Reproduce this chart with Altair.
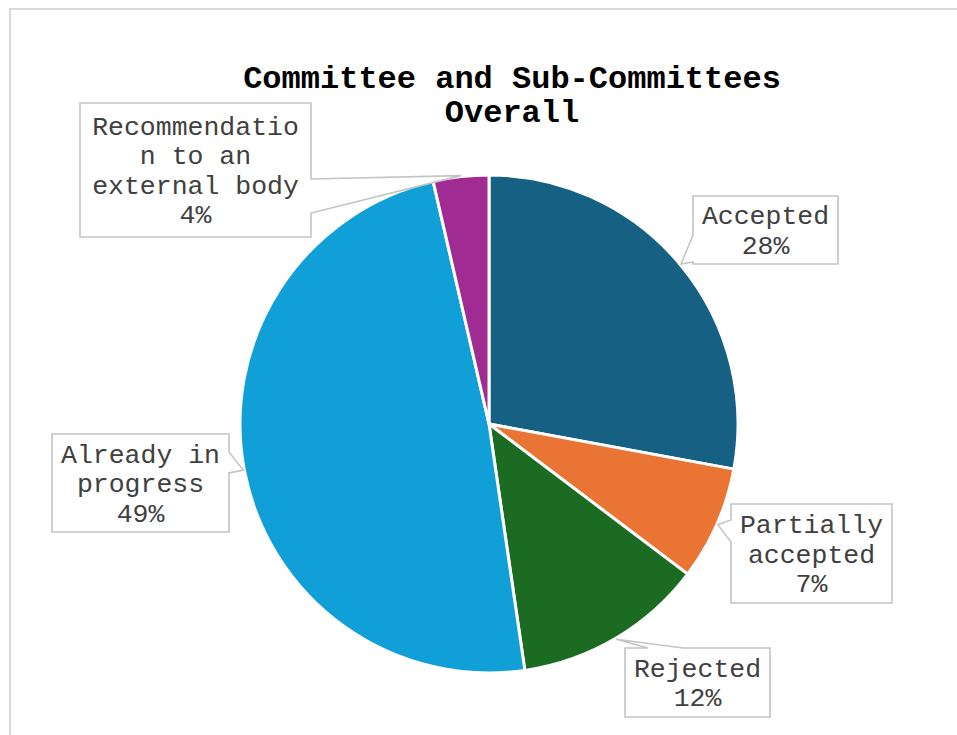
import math
import altair as alt
import pandas as pd

# ---- data ----
categories = ["Accepted", "Partially accepted", "Rejected",
              "Already in progress", "Recommendation to an external body"]
values = [27.9, 7.4, 12.4, 48.7, 3.6]          # percent of recommendations
colors = ["#166083", "#EA7434", "#1C6B23", "#119FD7", "#A02B93"]
wrapped = {                                    # how the labels wrap in the boxes
    "Accepted": ["Accepted"],
    "Partially accepted": ["Partially", "accepted"],
    "Rejected": ["Rejected"],
    "Already in progress": ["Already in", "progress"],
    "Recommendation to an external body": ["Recommendatio", "n to an", "external body"],
}
title_lines = ["Committee and Sub-Committees", "Overall"]

# ---- layout (positions / styling only) ----
CX, CY, R = 489, 424, 249
FONT = "'Courier New', Courier, 'Nimbus Mono PS', FreeMono, 'Liberation Mono', monospace"
LH = 29.5
# box: x0, y0, x1, y1 ; pointer side and base positions along that side
layout = {
    "Accepted": dict(box=(693, 196, 838, 264), side="left", base=(235, 262)),
    "Partially accepted": dict(box=(731, 504, 892, 603), side="left", base=(520, 542)),
    "Rejected": dict(box=(625, 648, 770, 717), side="top", base=(648, 683)),
    "Already in progress": dict(box=(52, 434, 229, 532), side="right", base=(452, 473)),
    "Recommendation to an external body": dict(box=(80, 103, 311, 237), side="right", base=(179, 213)),
}

total = sum(values)
rows = []
cum = 0.0
for i, (c, v) in enumerate(zip(categories, values)):
    mid = (cum + v / 2) / total * 2 * math.pi
    cum += v
    tx, ty = CX + (R + 1) * math.sin(mid), CY - (R + 1) * math.cos(mid)
    L = layout[c]
    x0, y0, x1, y1 = L["box"]
    a, b = L["base"]
    if L["side"] == "left":
        pts = [(x0, y0), (x1, y0), (x1, y1), (x0, y1), (x0, b), (tx, ty), (x0, a)]
    elif L["side"] == "right":
        pts = [(x0, y0), (x1, y0), (x1, a), (tx, ty), (x1, b), (x1, y1), (x0, y1)]
    else:  # top
        pts = [(x0, y0), (a, y0), (tx, ty), (b, y0), (x1, y0), (x1, y1), (x0, y1)]
    path = "M" + " L".join(f"{px:.1f},{py:.1f}" for px, py in pts) + " Z"
    lines = wrapped[c] + [f"{round(v / total * 100)}%"]
    label = "\n".join(lines)
    rows.append(dict(category=c, value=v, idx=i, path=path, label=label,
                     lx=(x0 + x1) / 2,
                     ly=(y0 + y1) / 2 - (len(lines) - 1) * LH / 2 + 1))

df = pd.DataFrame(rows)

pie = alt.Chart(df).mark_arc(outerRadius=R, stroke="white", strokeWidth=3).encode(
    theta=alt.Theta("value:Q", stack=True),
    color=alt.Color("category:N", scale=alt.Scale(domain=categories, range=colors), legend=None),
    order=alt.Order("idx:Q"),
    x=alt.value(CX),
    y=alt.value(CY),
)

callouts = alt.Chart(df).mark_point(
    filled=True, fill="white", stroke="#C4C4C4", strokeWidth=1.6, size=4, opacity=1
).encode(
    shape=alt.Shape("path:N", scale=None, legend=None),
    x=alt.value(0),
    y=alt.value(0),
)

labels = alt.Chart(df).mark_text(
    font=FONT, fontSize=26.5, lineBreak="\n", lineHeight=LH, color="#404040",
    align="center", baseline="middle"
).encode(
    text="label:N",
    x=alt.X("lx:Q", scale=None),
    y=alt.Y("ly:Q", scale=None),
)

title = alt.Chart(pd.DataFrame({"t": ["\n".join(title_lines)]})).mark_text(
    font=FONT, fontSize=32, fontWeight="bold", lineBreak="\n", lineHeight=33.5,
    color="#000000", align="center", baseline="middle"
).encode(text="t:N", x=alt.value(512), y=alt.value(78))

frame = alt.Chart(pd.DataFrame({"a": [0]})).mark_rect(
    fill="white", stroke="#D9D9D9", strokeWidth=2
).encode(x=alt.value(10), x2=alt.value(1000), y=alt.value(9), y2=alt.value(800))

chart = alt.layer(frame, pie, callouts, labels, title).properties(
    width=957, height=735, autosize="none", padding=0, background="white"
).configure_view(stroke=None)

chart.save("out.html", embed_options={"renderer": "svg", "actions": False})
